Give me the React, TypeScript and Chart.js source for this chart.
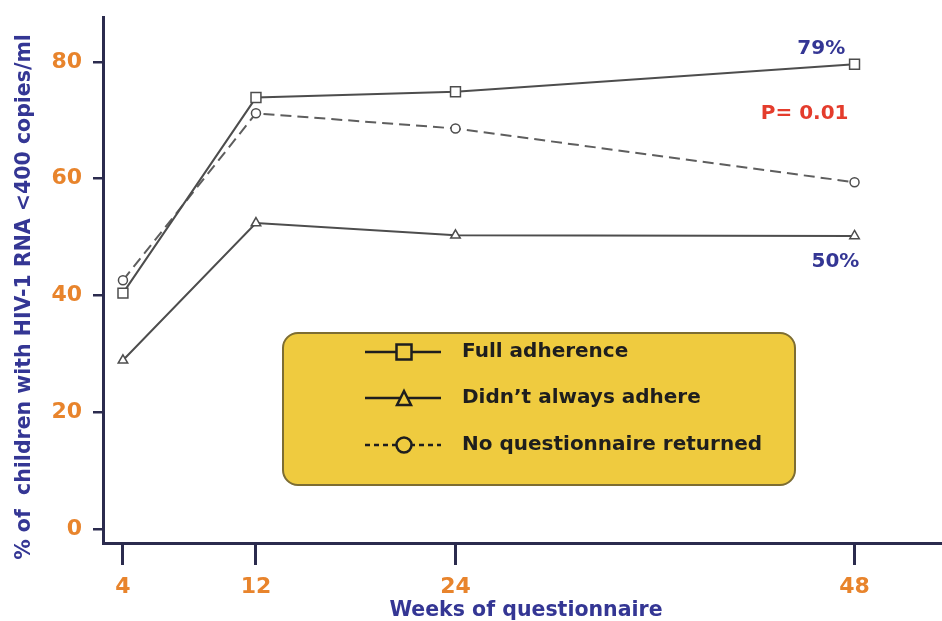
import React, { useEffect, useRef } from "react";
import { Chart, registerables } from "chart.js";

Chart.register(...registerables);

// ---- data ----
const weeks = [4, 12, 24, 48];
const fullAdherence = [40.4, 73.9, 74.9, 79.6];
const didntAlwaysAdhere = [28.9, 52.4, 50.3, 50.2];
const noQuestionnaire = [42.6, 71.2, 68.6, 59.4];
const xTickValues = [4, 12, 24, 48];
const yTickValues = [0, 20, 40, 60, 80];
const seriesLabels = ["Full adherence", "Didn\u2019t always adhere", "No questionnaire returned"];
const xTitle = "Weeks of questionnaire";
const yTitle = "% of  children with HIV-1 RNA <400 copies/ml";
const noteTexts = ["79%", "P= 0.01", "50%"];
const noteX = [46.0, 45.0, 46.85];
const noteY = [82.2, 71.2, 45.7];

const FONT = "'DejaVu Sans', Verdana, sans-serif";
const ORANGE = "#e8842c";
const BLUE = "#343694";
const RED = "#e43c2c";
const AXIS = "#2b2b4e";
const LINE = "#4d4d4d";

function drawMarker(ctx: CanvasRenderingContext2D, kind: string, x: number, y: number, s: number) {
  ctx.beginPath();
  if (kind === "rect") {
    ctx.rect(x - s / 2, y - s / 2, s, s);
  } else if (kind === "triangle") {
    ctx.moveTo(x, y - s / 2);
    ctx.lineTo(x + s / 2, y + s / 2);
    ctx.lineTo(x - s / 2, y + s / 2);
    ctx.closePath();
  } else {
    ctx.arc(x, y, s / 2, 0, Math.PI * 2);
  }
  ctx.fill();
  ctx.stroke();
}

const overlayPlugin = {
  id: "overlay",
  afterDraw(chart: any) {
    const ctx: CanvasRenderingContext2D = chart.ctx;
    const xs = chart.scales.x;
    const ys = chart.scales.y;
    ctx.save();

    // legend box
    const bx = 283, by = 333, bw = 512, bh = 152, r = 15;
    ctx.beginPath();
    ctx.moveTo(bx + r, by);
    ctx.arcTo(bx + bw, by, bx + bw, by + bh, r);
    ctx.arcTo(bx + bw, by + bh, bx, by + bh, r);
    ctx.arcTo(bx, by + bh, bx, by, r);
    ctx.arcTo(bx, by, bx + bw, by, r);
    ctx.closePath();
    ctx.fillStyle = "#efcb3f";
    ctx.fill();
    ctx.lineWidth = 2;
    ctx.strokeStyle = "#7d6d32";
    ctx.stroke();

    const rows = [352, 398, 445];
    const kinds = ["rect", "triangle", "circle"];
    rows.forEach((ry, i) => {
      ctx.strokeStyle = "#1e1e1e";
      ctx.lineWidth = 2.5;
      ctx.setLineDash(i === 2 ? [5, 4] : []);
      ctx.beginPath();
      ctx.moveTo(365, ry);
      ctx.lineTo(441, ry);
      ctx.stroke();
      ctx.setLineDash([]);
      ctx.fillStyle = "#efcb3f";
      drawMarker(ctx, kinds[i], 404, ry, i === 1 ? 14 : 15);
      ctx.fillStyle = "#1e1e1e";
      ctx.font = `bold 20px ${FONT}`;
      ctx.textAlign = "left";
      ctx.textBaseline = "middle";
      ctx.fillText(seriesLabels[i], 462, ry);
    });

    // annotations
    ctx.font = `bold 20px ${FONT}`;
    ctx.textAlign = "center";
    ctx.textBaseline = "middle";
    noteTexts.forEach((t, i) => {
      ctx.fillStyle = i === 1 ? RED : BLUE;
      ctx.fillText(t, xs.getPixelForValue(noteX[i]), ys.getPixelForValue(noteY[i]));
    });

    // axis titles
    ctx.fillStyle = BLUE;
    ctx.font = `bold 20.5px ${FONT}`;
    ctx.fillText(xTitle, 526, 611);
    ctx.translate(25, 297);
    ctx.rotate(-Math.PI / 2);
    ctx.fillText(yTitle, 0, 0);
    ctx.restore();
  },
};

const zeroPad = (s: any) => {
  s.paddingTop = 0;
  s.paddingBottom = 0;
  s.paddingLeft = 0;
  s.paddingRight = 0;
};

export default function App() {
  const ref = useRef<HTMLCanvasElement | null>(null);
  useEffect(() => {
    if (!ref.current) return;
    Chart.defaults.font.family = FONT;
    const mk = (vals: number[]) => weeks.map((w, i) => ({ x: w, y: vals[i] }));
    const chart = new Chart(ref.current, {
      type: "line",
      data: {
        datasets: [
          {
            label: seriesLabels[0],
            data: mk(fullAdherence),
            borderColor: LINE,
            borderWidth: 2,
            pointStyle: "rect",
            pointRadius: 7,
            pointBorderWidth: 1.5,
            pointBackgroundColor: "#ffffff",
            pointBorderColor: LINE,
          },
          {
            label: seriesLabels[1],
            data: mk(didntAlwaysAdhere),
            borderColor: LINE,
            borderWidth: 2,
            pointStyle: "triangle",
            pointRadius: 5.5,
            pointBorderWidth: 1.5,
            pointBackgroundColor: "#ffffff",
            pointBorderColor: LINE,
          },
          {
            label: seriesLabels[2],
            data: mk(noQuestionnaire),
            borderColor: "#5e5e5e",
            borderWidth: 2,
            borderDash: [11, 6],
            pointStyle: "circle",
            pointRadius: 4.5,
            pointBorderWidth: 1.5,
            pointBackgroundColor: "#ffffff",
            pointBorderColor: LINE,
          },
        ],
      },
      options: {
        responsive: false,
        animation: false,
        layout: { autoPadding: false, padding: { top: 17, right: 1, left: 0, bottom: 0 } },
        plugins: { legend: { display: false }, tooltip: { enabled: false } },
        scales: {
          x: {
            type: "linear",
            min: 2.8,
            max: 53.2,
            afterBuildTicks: (s: any) => {
              s.ticks = xTickValues.map((v) => ({ value: v }));
            },
            afterFit: (s: any) => {
              s.height = 78;
              zeroPad(s);
            },
            grid: {
              drawOnChartArea: false,
              drawTicks: true,
              tickLength: 22,
              color: AXIS,
              lineWidth: 3,
            },
            border: { display: true, color: AXIS, width: 3 },
            ticks: {
              color: ORANGE,
              padding: 9,
              maxRotation: 0,
              autoSkip: false,
              font: { family: FONT, size: 22, weight: "bold" },
            },
          },
          y: {
            type: "linear",
            min: -2.4,
            max: 87.7,
            afterBuildTicks: (s: any) => {
              s.ticks = yTickValues.map((v) => ({ value: v }));
            },
            afterFit: (s: any) => {
              s.width = 103;
              zeroPad(s);
            },
            grid: {
              drawOnChartArea: false,
              drawTicks: true,
              tickLength: 10,
              color: AXIS,
              lineWidth: 2.5,
            },
            border: { display: true, color: AXIS, width: 3 },
            ticks: {
              color: ORANGE,
              padding: 11,
              font: { family: FONT, size: 22, weight: "bold" },
            },
          },
        },
      },
      plugins: [overlayPlugin],
    } as any);
    return () => chart.destroy();
  }, []);
  return (
    <div style={{ position: "fixed", left: 0, top: 0, width: 942, height: 621, background: "#fff" }}>
      <canvas ref={ref} width={942} height={621} style={{ width: 942, height: 621, display: "block" }} />
    </div>
  );
}
